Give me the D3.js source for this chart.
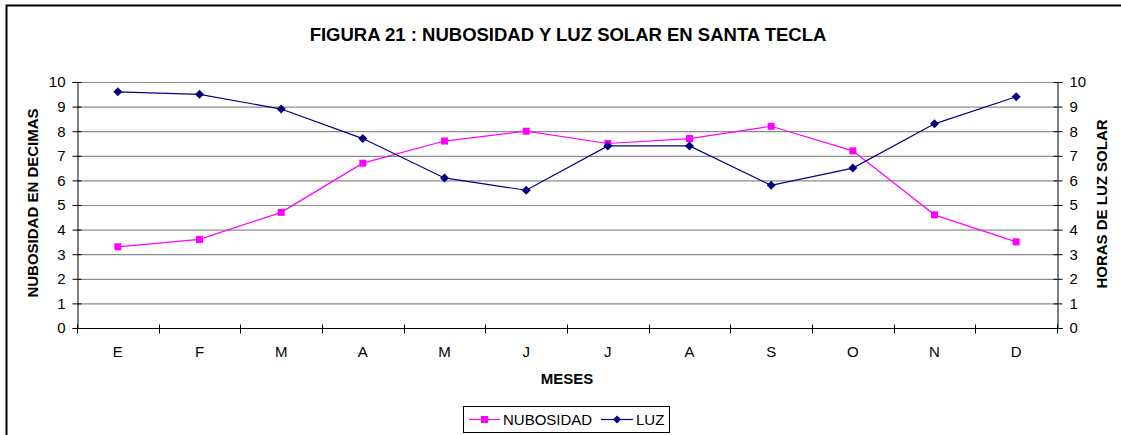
<!DOCTYPE html>
<html>
<head>
<meta charset="utf-8">
<script src="https://cdn.jsdelivr.net/npm/d3@7"></script>
<style>
  html, body { margin: 0; padding: 0; background: #fff; }
  svg { display: block; font-family: "Liberation Sans", Arial, sans-serif; }
</style>
</head>
<body>
<svg id="chart" width="1121" height="435"></svg>
<script>
// Monthly data for Santa Tecla
const months = ["E", "F", "M", "A", "M", "J", "J", "A", "S", "O", "N", "D"];
const nubosidad = [3.3, 3.6, 4.7, 6.7, 7.6, 8.0, 7.5, 7.7, 8.2, 7.2, 4.6, 3.5];
const luz = [9.6, 9.5, 8.9, 7.7, 6.1, 5.6, 7.4, 7.4, 5.8, 6.5, 8.3, 9.4];
const yTicks = [0, 1, 2, 3, 4, 5, 6, 7, 8, 9, 10];

const svg = d3.select("#chart");
const W = 1121, H = 435;
const plot = { left: 77, right: 1057, top: 82, bottom: 328 };

// Chart frame
svg.append("path")
  .attr("d", `M6.5,${H + 5} V5.5 H${W + 5}`)
  .attr("fill", "none").attr("stroke", "#000").attr("stroke-width", 2);

// Title
svg.append("text")
  .attr("x", 568).attr("y", 41)
  .attr("text-anchor", "middle")
  .attr("font-size", 18.5).attr("font-weight", "bold")
  .text("FIGURA 21 : NUBOSIDAD Y LUZ SOLAR EN SANTA TECLA");

const x = d3.scaleBand().domain(d3.range(months.length)).range([plot.left, plot.right]);
const yL = d3.scaleLinear().domain([0, 10]).range([plot.bottom, plot.top]);
const yR = d3.scaleLinear().domain([0, 10]).range([plot.bottom, plot.top]);

// Horizontal gridlines
svg.append("g").selectAll("line").data(yTicks.slice(1)).join("line")
  .attr("x1", plot.left).attr("x2", plot.right)
  .attr("y1", d => yL(d) + 0.5).attr("y2", d => yL(d) + 0.5)
  .attr("stroke", "#8c8c8c").attr("stroke-width", 1.2);

// Left axis
const gL = svg.append("g").attr("transform", `translate(${plot.left + 0.5},0)`)
  .call(d3.axisLeft(yL).tickValues(yTicks).tickFormat(d3.format("d")).tickSize(5).tickPadding(7));
gL.selectAll(".tick line").clone().attr("x2", 4);

// Right axis
const gR = svg.append("g").attr("transform", `translate(${plot.right + 0.5},0)`)
  .call(d3.axisRight(yR).tickValues(yTicks).tickFormat(d3.format("d")).tickSize(5).tickPadding(7));
gR.selectAll(".tick line").clone().attr("x2", -4);

// Bottom axis: ticks sit between categories
const xEdges = d3.range(months.length + 1).map(i => plot.left + i * x.bandwidth());
const gB = svg.append("g").attr("transform", `translate(0,${plot.bottom + 0.5})`);
gB.append("line").attr("x1", plot.left).attr("x2", plot.right).attr("stroke", "#000");
gB.selectAll("line.tk").data(xEdges).join("line").attr("class", "tk")
  .attr("x1", d => Math.round(d) + 0.5).attr("x2", d => Math.round(d) + 0.5)
  .attr("y1", -4).attr("y2", 5).attr("stroke", "#000");
gB.selectAll("text").data(months).join("text")
  .attr("x", (d, i) => x(i) + x.bandwidth() / 2).attr("y", 28)
  .attr("text-anchor", "middle").attr("font-size", 15).text(d => d);

[gL, gR].forEach(g => {
  g.select(".domain").attr("stroke", "#000");
  g.selectAll(".tick line").attr("stroke", "#000");
  g.selectAll(".tick text").attr("font-size", 15).attr("fill", "#000")
    .attr("font-family", "'Liberation Sans', Arial, sans-serif");
});

// Axis titles
svg.append("text").attr("transform", "translate(38,203) rotate(-90)")
  .attr("text-anchor", "middle").attr("font-size", 15).attr("font-weight", "bold")
  .text("NUBOSIDAD EN DECIMAS");
svg.append("text").attr("transform", "translate(1107,204) rotate(-90)")
  .attr("text-anchor", "middle").attr("font-size", 15).attr("font-weight", "bold")
  .text("HORAS DE LUZ SOLAR");
svg.append("text").attr("x", 567).attr("y", 384)
  .attr("text-anchor", "middle").attr("font-size", 15).attr("font-weight", "bold")
  .text("MESES");

const cx = i => x(i) + x.bandwidth() / 2;
const pink = "#ff00ff", navy = "#000080";

// Nubosidad line with square markers
svg.append("path").datum(nubosidad)
  .attr("d", d3.line().x((d, i) => cx(i)).y(d => yL(d)))
  .attr("fill", "none").attr("stroke", pink).attr("stroke-width", 1.2);
svg.append("g").selectAll("rect").data(nubosidad).join("rect")
  .attr("x", (d, i) => cx(i) - 3.5).attr("y", d => yL(d) - 3.5)
  .attr("width", 7).attr("height", 7).attr("fill", pink);

// Luz line with diamond markers
svg.append("path").datum(luz)
  .attr("d", d3.line().x((d, i) => cx(i)).y(d => yR(d)))
  .attr("fill", "none").attr("stroke", navy).attr("stroke-width", 1.2);
svg.append("g").selectAll("path").data(luz).join("path")
  .attr("d", (d, i) => `M${cx(i)},${yR(d) - 4.5}l4.5,4.5l-4.5,4.5l-4.5,-4.5z`)
  .attr("fill", navy);

// Legend
const lg = svg.append("g").attr("transform", "translate(463,406)");
lg.append("rect").attr("x", 0.5).attr("y", 0.5).attr("width", 206).attr("height", 26)
  .attr("fill", "#fff").attr("stroke", "#000");
lg.append("line").attr("x1", 6).attr("x2", 37).attr("y1", 13.5).attr("y2", 13.5)
  .attr("stroke", pink).attr("stroke-width", 1.2);
lg.append("rect").attr("x", 18).attr("y", 10).attr("width", 7).attr("height", 7).attr("fill", pink);
lg.append("text").attr("x", 40).attr("y", 18.5).attr("font-size", 15).text("NUBOSIDAD");
lg.append("line").attr("x1", 138).attr("x2", 170).attr("y1", 13.5).attr("y2", 13.5)
  .attr("stroke", navy).attr("stroke-width", 1.2);
lg.append("path").attr("d", "M154,9.5l4,4l-4,4l-4,-4z").attr("fill", navy);
lg.append("text").attr("x", 173).attr("y", 18.5).attr("font-size", 15).text("LUZ");
</script>
</body>
</html>
